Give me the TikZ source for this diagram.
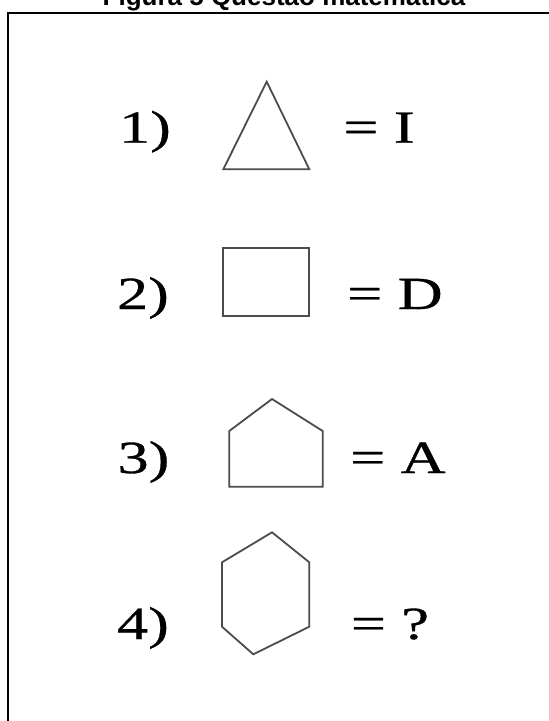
\documentclass[tikz,border=0pt]{standalone}
\usepackage{fontspec}
\setmainfont{Liberation Serif}
\newfontfamily\qfont[FakeStretch=1.35,FakeBold=0.7]{Liberation Serif}
\newfontfamily\tfont{Liberation Sans}
\usepackage{tikz}

\begin{document}
\begin{tikzpicture}[
  x=1pt,y=-1pt,
  qtext/.style={anchor=base,inner sep=0pt,font=\qfont\fontsize{46}{50}\selectfont},
  captiontext/.style={anchor=base,inner sep=0pt,font=\tfont\bfseries\fontsize{26}{30}\selectfont},
  boxframe/.style={draw=black,line width=2pt},
  figline/.style={draw=black!70,line width=1.8pt,line join=miter}
]
\path[use as bounding box] (0,0) rectangle (549,721);
\node[captiontext] (caption) at (284,5) {Figura 5 Questão matemática};
\draw[boxframe] (8,721) -- (8,13) -- (549,13);
% row 1
\node[qtext] (num1) at (145,142.7) {1)};
\draw[figline] (266.7,81.7) -- (309.3,169.3) -- (223.3,169.3) -- cycle;
\node[qtext] (val1) at (379,142.7) {= I};
% row 2
\node[qtext] (num2) at (143,309) {2)};
\draw[figline] (223.3,248.3) rectangle (309.3,316);
\node[qtext] (val2) at (395,309) {= D};
% row 3
\node[qtext] (num3) at (143.5,473) {3)};
\draw[figline] (272,399) -- (322.7,431) -- (322.7,486.7) -- (229.3,486.7) -- (229.3,431) -- cycle;
\node[qtext] (val3) at (398,473) {= A};
% row 4
\node[qtext] (num4) at (143,639) {4)};
\draw[figline] (272,532.3) -- (309.3,562.3) -- (309.3,626.7) -- (253.3,654.3) -- (222,626.7) -- (222,562.3) -- cycle;
\node[qtext] (val4) at (390,639) {= ?};
\end{tikzpicture}
\end{document}
